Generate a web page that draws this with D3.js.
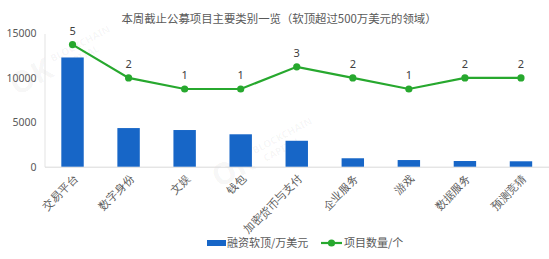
<!DOCTYPE html>
<html>
<head>
<meta charset="utf-8">
<script src="https://cdn.jsdelivr.net/npm/d3@7"></script>
<style>
  body { margin: 0; background: #fff; }
  svg { display: block; font-family: "Noto Sans CJK SC", "Noto Sans", sans-serif; }
</style>
</head>
<body>
<div id="chart"></div>
<script>
// chart data
const categories = ['交易平台', '数字身份', '文娱', '钱包', '加密货币与支付', '企业服务', '游戏', '数据服务', '预测竞猜'];
const funding = [12300, 4350, 4130, 3650, 2920, 950, 750, 640, 610];
const projectCount = [5, 2, 1, 1, 3, 2, 1, 2, 2];
const yTicks = [0, 5000, 10000, 15000];

const width = 549, height = 259;
const margin = { top: 33.5, right: 0, bottom: 92.3, left: 44.5 };

const svg = d3.select('#chart').append('svg')
  .attr('width', width)
  .attr('height', height);

// faint watermark
const wm = svg.append('g').attr('fill', '#000').attr('fill-opacity', 0.045).attr('font-weight', 'bold')
  .attr('font-family', '"Noto Sans", sans-serif');
[[36, 86], [238, 178]].forEach(([px, py]) => {
  const g = wm.append('g').attr('transform', `translate(${px},${py}) rotate(-28)`);
  g.append('text').attr('font-size', 30).attr('text-anchor', 'middle').text('OK');
  g.append('text').attr('x', 26).attr('y', -13).attr('font-size', 10).text('BLOCKCHAIN');
  g.append('text').attr('x', 32).attr('y', -1).attr('font-size', 10).text('CAPITAL');
});

const x = d3.scaleBand()
  .domain(categories)
  .range([margin.left, width - margin.right])
  .paddingInner(0.6)
  .paddingOuter(0.3);

const y = d3.scaleLinear()
  .domain([0, 15000])
  .range([height - margin.bottom, margin.top]);

const y2 = d3.scaleLinear()
  .domain([-6, 6])
  .range([height - margin.bottom, margin.top]);

// title
svg.append('text')
  .attr('x', 279)
  .attr('y', 23)
  .attr('text-anchor', 'middle')
  .attr('font-size', 11.4)
  .attr('fill', '#595959')
  .text('本周截止公募项目主要类别一览（软顶超过500万美元的领域）');

// left axis
const yAxis = svg.append('g')
  .attr('transform', `translate(${margin.left},0)`)
  .call(d3.axisLeft(y).tickValues(yTicks).tickFormat(d3.format('d')).tickSize(0).tickPadding(8));
yAxis.select('.domain').attr('stroke', '#e3e3e3');
yAxis.selectAll('text').attr('font-size', 10.5).attr('fill', '#595959')
  .attr('font-family', '"Noto Sans", sans-serif');

// bottom axis
const xAxis = svg.append('g')
  .attr('transform', `translate(0,${height - margin.bottom})`)
  .call(d3.axisBottom(x).tickSize(0).tickPadding(0));
xAxis.select('.domain').attr('stroke', '#d9d9d9');
xAxis.selectAll('text')
  .attr('font-size', 11)
  .attr('fill', '#595959')
  .attr('text-anchor', 'end')
  .attr('dy', 0)
  .attr('transform', 'translate(6,13) rotate(-45)');

// bars
svg.append('g')
  .selectAll('rect')
  .data(funding)
  .join('rect')
  .attr('x', (d, i) => x(categories[i]))
  .attr('y', d => y(d))
  .attr('width', x.bandwidth())
  .attr('height', d => y(0) - y(d))
  .attr('fill', '#1766c7');

// line
const cx = i => x(categories[i]) + x.bandwidth() / 2;
const line = d3.line()
  .x((d, i) => cx(i))
  .y(d => y2(d));

svg.append('path')
  .datum(projectCount)
  .attr('d', line)
  .attr('fill', 'none')
  .attr('stroke', '#27a82e')
  .attr('stroke-width', 2.2);

svg.append('g')
  .selectAll('circle')
  .data(projectCount)
  .join('circle')
  .attr('cx', (d, i) => cx(i))
  .attr('cy', d => y2(d))
  .attr('r', 3.6)
  .attr('fill', '#27a82e');

svg.append('g')
  .selectAll('text')
  .data(projectCount)
  .join('text')
  .attr('x', (d, i) => cx(i))
  .attr('y', d => y2(d) - 10)
  .attr('text-anchor', 'middle')
  .attr('font-size', 11)
  .attr('font-family', '"Noto Sans", sans-serif')
  .attr('fill', '#404040')
  .text(d => d);

// legend
const legend = svg.append('g').attr('font-size', 11).attr('fill', '#595959');
legend.append('rect')
  .attr('x', 207).attr('y', 240).attr('width', 19).attr('height', 6)
  .attr('fill', '#1766c7');
legend.append('text')
  .attr('x', 227).attr('y', 247)
  .attr('fill', '#595959')
  .text('融资软顶/万美元');
legend.append('line')
  .attr('x1', 321).attr('x2', 342).attr('y1', 243).attr('y2', 243)
  .attr('stroke', '#27a82e').attr('stroke-width', 2.2);
legend.append('circle')
  .attr('cx', 331.5).attr('cy', 243).attr('r', 3.6)
  .attr('fill', '#27a82e');
legend.append('text')
  .attr('x', 344).attr('y', 247)
  .attr('fill', '#595959')
  .text('项目数量/个');
</script>
</body>
</html>
